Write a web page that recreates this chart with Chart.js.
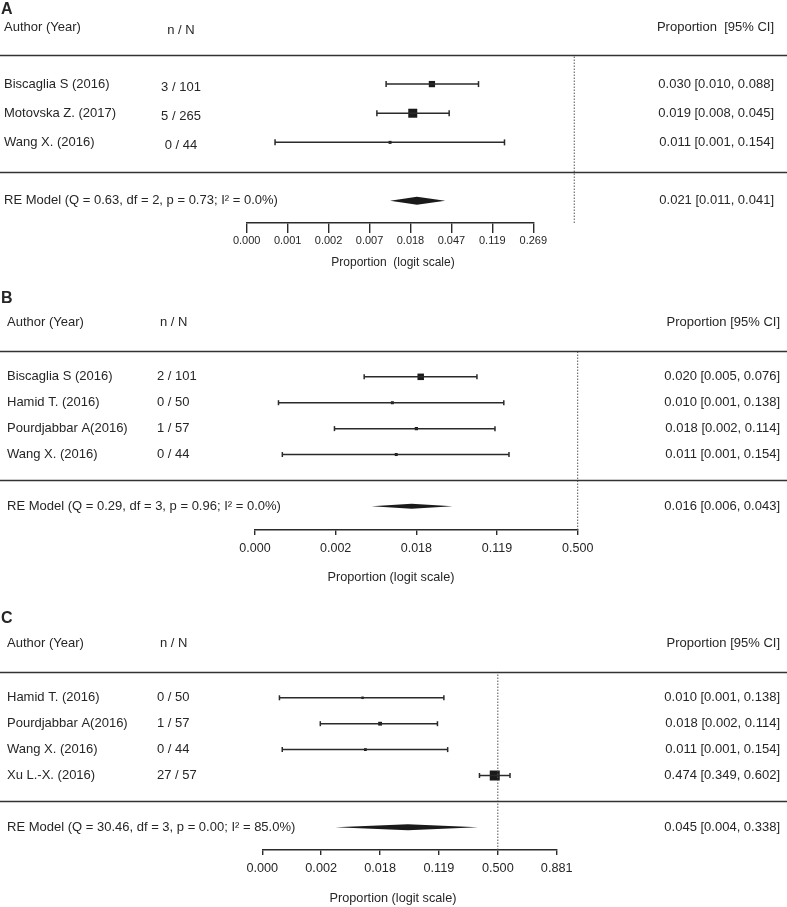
<!DOCTYPE html>
<html>
<head>
<meta charset="utf-8">
<script src="https://cdn.jsdelivr.net/npm/chart.js@4.4.1/dist/chart.umd.min.js"></script>
<style>
  html, body { margin: 0; padding: 0; background: #fff; }
  .panel { position: absolute; left: 0; width: 787px; }
</style>
</head>
<body>
<div class="panel" style="top:0;height:280px"><canvas id="chartA"></canvas></div>
<div class="panel" style="top:285px;height:305px"><canvas id="chartB"></canvas></div>
<div class="panel" style="top:600px;height:307px"><canvas id="chartC"></canvas></div>
<script>
// Panel A data
const studiesA = ['Biscaglia S (2016)', 'Motovska Z. (2017)', 'Wang X. (2016)'];
const countsA = ['3 / 101', '5 / 265', '0 / 44'];
const propA = [0.030, 0.019, 0.011];
const lowerA = [0.010, 0.008, 0.00067];
const upperA = [0.088, 0.045, 0.154];
const weightA = [35, 60, 5];
const reA = [0.021, 0.011, 0.041];
const reLabelA = 'RE Model (Q = 0.63, df = 2, p = 0.73; I\u00B2 = 0.0%)';
const tickValsA = [-8, -7, -6, -5, -4, -3, -2, -1];
const tickLabelsA = ['0.000', '0.001', '0.002', '0.007', '0.018', '0.047', '0.119', '0.269'];

// Panel B data
const studiesB = ['Biscaglia S (2016)', 'Hamid T. (2016)', 'Pourdjabbar A(2016)', 'Wang X. (2016)'];
const countsB = ['2 / 101', '0 / 50', '1 / 57', '0 / 44'];
const propB = [0.020, 0.010, 0.018, 0.011];
const lowerB = [0.005, 0.0006, 0.0024, 0.00066];
const upperB = [0.076, 0.138, 0.114, 0.154];
const weightB = [55, 14, 17, 14];
const reB = [0.016, 0.006, 0.043];
const reLabelB = 'RE Model (Q = 0.29, df = 3, p = 0.96; I\u00B2 = 0.0%)';
const tickValsB = [-8, -6, -4, -2, 0];
const tickLabelsB = ['0.000', '0.002', '0.018', '0.119', '0.500'];

// Panel C data
const studiesC = ['Hamid T. (2016)', 'Pourdjabbar A(2016)', 'Wang X. (2016)', 'Xu L.-X. (2016)'];
const countsC = ['0 / 50', '1 / 57', '0 / 44', '27 / 57'];
const propC = [0.010, 0.018, 0.011, 0.474];
const lowerC = [0.0006, 0.0024, 0.00066, 0.349];
const upperC = [0.138, 0.114, 0.154, 0.602];
const weightC = [18, 22, 19, 41];
const reC = [0.045, 0.004, 0.338];
const reLabelC = 'RE Model (Q = 30.46, df = 3, p = 0.00; I\u00B2 = 85.0%)';
const tickValsC = [-8, -6, -4, -2, 0, 2];
const tickLabelsC = ['0.000', '0.002', '0.018', '0.119', '0.500', '0.881'];

const FONT = "'Liberation Sans', Arial, sans-serif";
const INK = '#262626';

const logit = p => Math.log(p / (1 - p));
const fmtCI = (p, lo, hi) => `${p.toFixed(3)} [${lo.toFixed(3)}, ${hi.toFixed(3)}]`;

// page-pixel layout of each panel
const layoutA = {
    letter: 'A', top: 0, height: 280, rowY0: 170, spacing: 30, axisY: 223,
    xLeft: 246.7, xRight: 533.3, tl: 10, tickSize: 11, labelY: 241,
    title: 'Proportion  (logit scale)', titleSize: 12, titleX: 393, titleY: 263,
    capR: 3, sqMin: 3, sqMax: 9, diamondH: 4,
    letterY: 10, headerY: 27, authorX: 4, nX: 181, nHeadX: 181, nAlign: 'center', nDy: 3,
    ciHeader: 'Proportion  [95% CI]', ciX: 774
};
const layoutB = {
    letter: 'B', top: 285, height: 305, rowY0: 479.3, spacing: 26.5, axisY: 530,
    xLeft: 255, xRight: 577.7, tl: 5, tickSize: 12.5, labelY: 548.3,
    title: 'Proportion (logit scale)', titleSize: 12.7, titleX: 391, titleY: 577,
    capR: 2.5, sqMin: 3, sqMax: 6.5, diamondH: 2.5,
    letterY: 299, headerY: 322, authorX: 7, nX: 157, nHeadX: 160, nAlign: 'left', nDy: 0,
    ciHeader: 'Proportion [95% CI]', ciX: 780
};
const layoutC = {
    letter: 'C', top: 600, height: 307, rowY0: 800, spacing: 26.66, axisY: 850,
    xLeft: 262.3, xRight: 556.7, tl: 5, tickSize: 12.7, labelY: 868.3,
    title: 'Proportion (logit scale)', titleSize: 12.7, titleX: 393, titleY: 898.5,
    capR: 2.5, sqMin: 2.5, sqMax: 10, diamondH: 3,
    letterY: 619, headerY: 643, authorX: 7, nX: 157, nHeadX: 160, nAlign: 'left', nDy: 0,
    ciHeader: 'Proportion [95% CI]', ciX: 780
};

function forestText(d, lay) {
    return {
        id: 'forestText',
        afterDatasetsDraw(chart) {
            const { ctx, scales: { x, y } } = chart;
            const k = d.studies.length;
            const W = chart.width;
            const py = v => v - lay.top; // page y -> canvas y
            ctx.save();
            ctx.fillStyle = INK;
            ctx.textBaseline = 'middle';

            // panel letter
            ctx.font = `bold 16px ${FONT}`;
            ctx.textAlign = 'left';
            ctx.fillText(lay.letter, 1, py(lay.letterY));

            // headers
            ctx.font = `13px ${FONT}`;
            ctx.fillText('Author (Year)', lay.authorX, py(lay.headerY));
            ctx.textAlign = lay.nAlign;
            ctx.fillText('n / N', lay.nHeadX, py(lay.headerY) + lay.nDy);
            ctx.textAlign = 'right';
            ctx.fillText(lay.ciHeader, lay.ciX, py(lay.headerY));

            // rules
            ctx.strokeStyle = '#333';
            ctx.lineWidth = 1.6;
            [k + 1, 0].forEach(r => {
                const yy = Math.round(y.getPixelForValue(r)) + 0.5;
                ctx.beginPath();
                ctx.moveTo(0, yy);
                ctx.lineTo(W, yy);
                ctx.stroke();
            });

            // study rows
            d.studies.forEach((s, i) => {
                const yy = y.getPixelForValue(k - i);
                ctx.textAlign = 'left';
                ctx.fillText(s, lay.authorX, yy);
                ctx.textAlign = lay.nAlign;
                ctx.fillText(d.counts[i], lay.nX, yy + lay.nDy);
                ctx.textAlign = 'right';
                ctx.fillText(fmtCI(d.prop[i], d.lower[i], d.upper[i]), lay.ciX, yy);
            });

            // RE model row
            const yRe = y.getPixelForValue(-1);
            ctx.textAlign = 'left';
            ctx.fillText(d.reLabel, lay.authorX, yRe);
            ctx.textAlign = 'right';
            ctx.fillText(fmtCI(d.re[0], d.re[1], d.re[2]), lay.ciX, yRe);

            // summary diamond
            const xc = x.getPixelForValue(logit(d.re[0]));
            const xl = x.getPixelForValue(logit(d.re[1]));
            const xr = x.getPixelForValue(logit(d.re[2]));
            ctx.fillStyle = '#1a1a1a';
            ctx.beginPath();
            ctx.moveTo(xl, yRe);
            ctx.lineTo(xc, yRe - lay.diamondH);
            ctx.lineTo(xr, yRe);
            ctx.lineTo(xc, yRe + lay.diamondH);
            ctx.closePath();
            ctx.fill();

            // axis title
            ctx.fillStyle = INK;
            ctx.font = `${lay.titleSize}px ${FONT}`;
            ctx.textAlign = 'center';
            ctx.fillText(lay.title, lay.titleX, py(lay.titleY));
            ctx.restore();
        }
    };
}

function buildPanel(id, d, lay) {
    const k = d.studies.length;
    const canvas = document.getElementById(id);
    const axisH = lay.height - (lay.axisY - lay.top);
    const yMax = (lay.rowY0 - lay.top) / lay.spacing;
    const yMin = -(lay.axisY - lay.rowY0) / lay.spacing;
    const rows = d.studies.map((_, i) => k - i);
    const xMin = d.tickVals[0];
    const xMax = d.tickVals[d.tickVals.length - 1];

    const datasets = [];
    // dotted reference line at proportion 0.5 (logit 0)
    datasets.push({
        type: 'line',
        data: [{ x: 0, y: yMin }, { x: 0, y: k + 1 }],
        borderColor: '#555',
        borderWidth: 1,
        borderDash: [1.5, 1.5],
        pointRadius: 0,
        clip: false
    });
    // confidence intervals with end caps
    d.lower.forEach((lo, i) => {
        datasets.push({
            type: 'line',
            data: [{ x: logit(lo), y: rows[i] }, { x: logit(d.upper[i]), y: rows[i] }],
            borderColor: '#2a2a2a',
            borderWidth: 1.5,
            pointStyle: 'line',
            pointRotation: 90,
            pointRadius: lay.capR,
            pointBorderWidth: 1.5,
            pointBorderColor: '#2a2a2a',
            clip: false
        });
    });
    // point estimates, square size by weight
    const wMin = Math.min(...d.weights);
    const wMax = Math.max(...d.weights);
    datasets.push({
        type: 'scatter',
        data: d.prop.map((p, i) => ({ x: logit(p), y: rows[i] })),
        pointStyle: 'rect',
        pointRadius: d.weights.map(w => (lay.sqMin + (w - wMin) / (wMax - wMin) * (lay.sqMax - lay.sqMin)) / Math.SQRT2),
        backgroundColor: '#1a1a1a',
        borderWidth: 0,
        clip: false
    });

    return new Chart(canvas, {
        type: 'scatter',
        data: { datasets },
        options: {
            responsive: true,
            maintainAspectRatio: false,
            animation: false,
            events: [],
            layout: {
                padding: { left: lay.xLeft, right: 787 - lay.xRight, top: 0, bottom: 0 }
            },
            plugins: {
                legend: { display: false },
                tooltip: { enabled: false }
            },
            scales: {
                x: {
                    type: 'linear',
                    min: xMin,
                    max: xMax,
                    afterBuildTicks: axis => { axis.ticks = d.tickVals.map(v => ({ value: v })); },
                    afterFit: scale => { scale.height = axisH; },
                    grid: { drawOnChartArea: false, drawTicks: true, tickLength: lay.tl, color: '#2a2a2a', lineWidth: 1.4 },
                    border: { display: true, color: '#2a2a2a', width: 1.4 },
                    ticks: {
                        autoSkip: false,
                        maxRotation: 0,
                        color: INK,
                        padding: lay.labelY - lay.axisY - lay.tl - 0.6 * lay.tickSize,
                        font: { family: FONT, size: lay.tickSize },
                        callback: v => d.tickLabels[d.tickVals.indexOf(v)]
                    }
                },
                y: {
                    type: 'linear',
                    display: false,
                    min: yMin,
                    max: yMax
                }
            }
        },
        plugins: [forestText(d, lay)]
    });
}

document.addEventListener('DOMContentLoaded', () => {
    buildPanel('chartA', {
        studies: studiesA, counts: countsA, prop: propA, lower: lowerA, upper: upperA,
        weights: weightA, re: reA, reLabel: reLabelA, tickVals: tickValsA, tickLabels: tickLabelsA
    }, layoutA);
    buildPanel('chartB', {
        studies: studiesB, counts: countsB, prop: propB, lower: lowerB, upper: upperB,
        weights: weightB, re: reB, reLabel: reLabelB, tickVals: tickValsB, tickLabels: tickLabelsB
    }, layoutB);
    buildPanel('chartC', {
        studies: studiesC, counts: countsC, prop: propC, lower: lowerC, upper: upperC,
        weights: weightC, re: reC, reLabel: reLabelC, tickVals: tickValsC, tickLabels: tickLabelsC
    }, layoutC);
});
</script>
</body>
</html>
